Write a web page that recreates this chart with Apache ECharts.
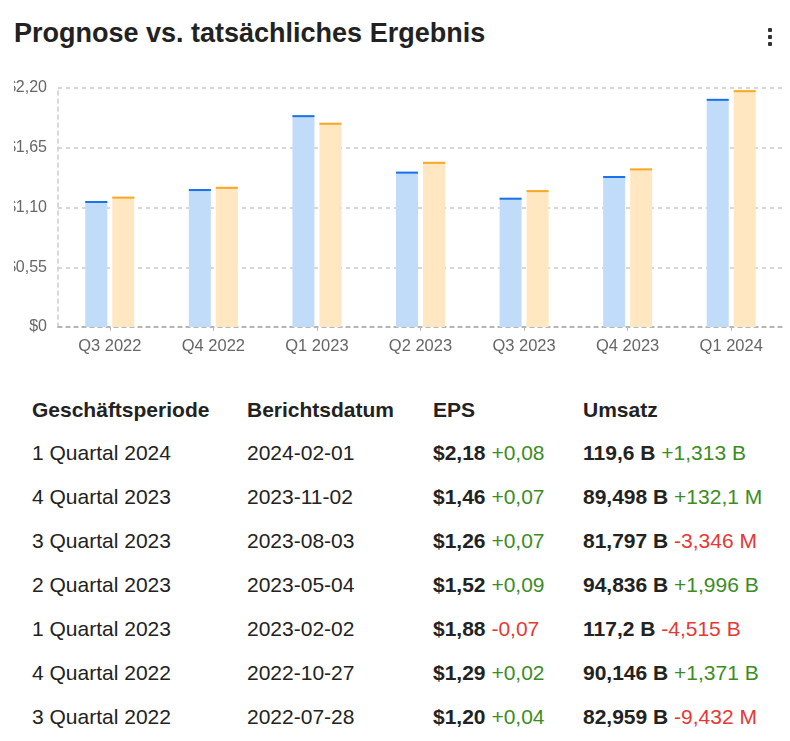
<!DOCTYPE html>
<html><head><meta charset="utf-8">
<script src="https://cdn.jsdelivr.net/npm/echarts@6/dist/echarts.min.js"></script>
<style>
body{margin:0;background:#fff;font-family:"Liberation Sans",Arial,sans-serif;color:#222;}
#wrap{position:relative;width:790px;height:741px;overflow:hidden;}
#title{position:absolute;left:14px;top:18px;font-size:27px;font-weight:bold;color:#222;white-space:nowrap;}
#menu{position:absolute;left:768px;top:28px;width:4px;}
#menu div{width:4px;height:4px;background:#333;border-radius:1px;margin-bottom:3px;}
#chart{position:absolute;left:14px;top:70px;width:776px;height:300px;}
.cell{position:absolute;font-size:21px;white-space:nowrap;line-height:24px;}
.h{font-weight:bold;}
.pos{color:#3d8c1e;}
.neg{color:#e53935;}
</style></head>
<body><div id="wrap">
<div id="title">Prognose vs. tatsächliches Ergebnis</div>
<div id="menu"><div></div><div></div><div></div></div>
<div id="chart"></div>
<div id="table"></div>
</div>
<script>
var categories = ['Q3 2022','Q4 2022','Q1 2023','Q2 2023','Q3 2023','Q4 2023','Q1 2024'];
var forecastEPS = [1.16, 1.27, 1.95, 1.43, 1.19, 1.39, 2.10];
var actualEPS   = [1.20, 1.29, 1.88, 1.52, 1.26, 1.46, 2.18];
var yTicks = [0, 0.55, 1.10, 1.65, 2.20];

var headers = ['Geschäftsperiode','Berichtsdatum','EPS','Umsatz'];
var periods = ['1 Quartal 2024','4 Quartal 2023','3 Quartal 2023','2 Quartal 2023','1 Quartal 2023','4 Quartal 2022','3 Quartal 2022'];
var reportDates = ['2024-02-01','2023-11-02','2023-08-03','2023-05-04','2023-02-02','2022-10-27','2022-07-28'];
var epsValues = ['$2,18','$1,46','$1,26','$1,52','$1,88','$1,29','$1,20'];
var epsSurprise = ['+0,08','+0,07','+0,07','+0,09','-0,07','+0,02','+0,04'];
var revenueValues = ['119,6 B','89,498 B','81,797 B','94,836 B','117,2 B','90,146 B','82,959 B'];
var revenueSurprise = ['+1,313 B','+132,1 M','-3,346 M','+1,996 B','-4,515 B','+1,371 B','-9,432 M'];

// table
var colX = [32, 247, 433, 583];
var t = '';
headers.forEach(function(h,i){ t += '<div class="cell h" style="left:'+colX[i]+'px;top:398px">'+h+'</div>'; });
periods.forEach(function(p,r){
  var top = 441 + r*44;
  var cls = function(s){ return s.charAt(0)==='-' ? 'neg' : 'pos'; };
  t += '<div class="cell" style="left:'+colX[0]+'px;top:'+top+'px">'+p+'</div>';
  t += '<div class="cell" style="left:'+colX[1]+'px;top:'+top+'px">'+reportDates[r]+'</div>';
  t += '<div class="cell" style="left:'+colX[2]+'px;top:'+top+'px"><b>'+epsValues[r]+'</b> <span class="'+cls(epsSurprise[r])+'">'+epsSurprise[r]+'</span></div>';
  t += '<div class="cell" style="left:'+colX[3]+'px;top:'+top+'px"><b>'+revenueValues[r]+'</b> <span class="'+cls(revenueSurprise[r])+'">'+revenueSurprise[r]+'</span></div>';
});
document.getElementById('table').innerHTML = t;

var BW = 22, GAP = 5;
function capSeries(name, data, color, sign){
  return {
    name: name + ' cap', type: 'custom', z: 5, silent: true,
    data: data.map(function(v,i){ return [i, v]; }),
    renderItem: function(params, api){
      var p = api.coord([api.value(0), api.value(1)]);
      var cx = p[0] + sign*(BW/2 + GAP/2);
      return { type:'rect', shape:{ x: cx - BW/2, y: p[1], width: BW, height: 2 }, style:{ fill: color } };
    }
  };
}
var chart = echarts.init(document.getElementById('chart'));
chart.setOption({
  animation: false,
  grid: { left: 44, right: 7, top: 18, bottom: 43, containLabel: false, outerBoundsMode: 'none' },
  xAxis: {
    type: 'category', data: categories,
    axisLine: { show: true, lineStyle: { color: '#aaa', type: [4,4], width: 1.5 } },
    axisTick: { show: true, alignWithLabel: true, length: 4, lineStyle: { color: '#bbb' } },
    axisLabel: { color: '#666', fontSize: 16.5, margin: 11, fontFamily: 'Liberation Sans' }
  },
  yAxis: {
    type: 'value', min: 0, max: 2.2, interval: 0.55,
    axisLine: { show: true, lineStyle: { color: '#ccc', type: [4,4], width: 1.5 } },
    axisTick: { show: false },
    splitLine: { show: true, lineStyle: { color: '#ccc', type: [4,4], width: 1.5 } },
    axisLabel: { color: '#666', fontSize: 16, margin: 11, fontFamily: 'Liberation Sans',
      formatter: function(v){ return v === 0 ? '$0' : '$' + v.toFixed(2).replace('.', ','); } }
  },
  series: [
    { name: 'Prognose', type: 'bar', data: forecastEPS, barWidth: BW, barGap: (GAP/BW*100)+'%',
      itemStyle: { color: '#c0dcf8' } },
    { name: 'Ergebnis', type: 'bar', data: actualEPS, barWidth: BW,
      itemStyle: { color: '#ffe7c2' } },
    capSeries('Prognose', forecastEPS, '#1a73e8', -1),
    capSeries('Ergebnis', actualEPS, '#f9a825', 1)
  ]
});
</script>
</body></html>
